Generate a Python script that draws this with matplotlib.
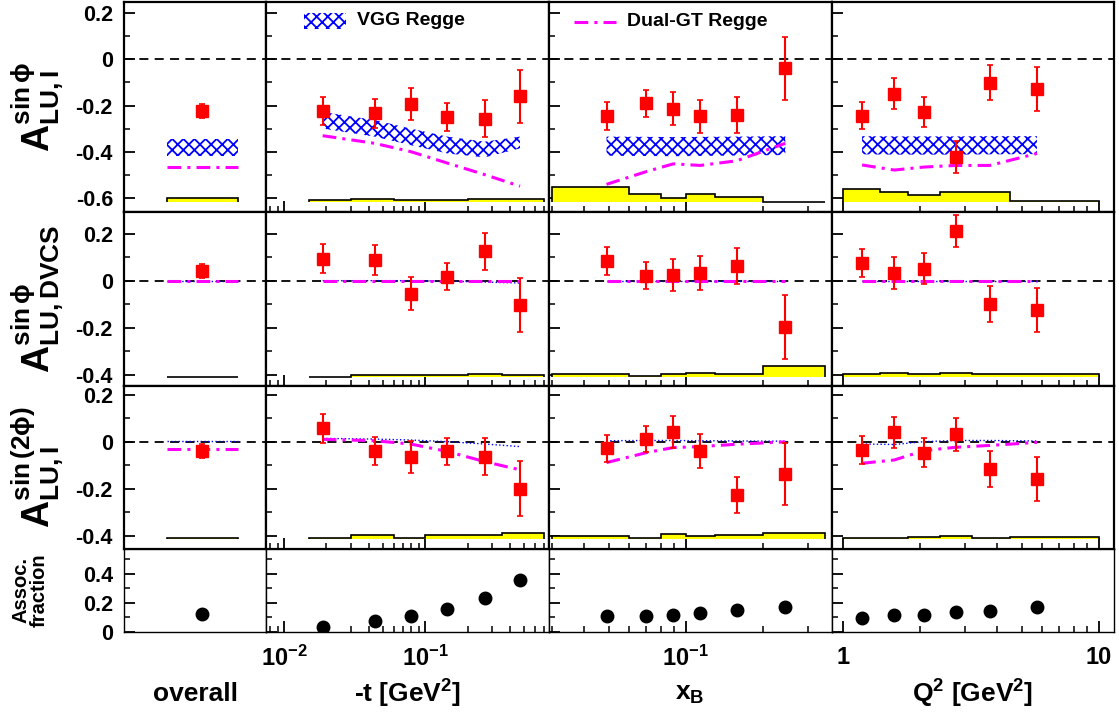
import numpy as np
import matplotlib
matplotlib.use('Agg')
import matplotlib.pyplot as plt
from matplotlib import rc
from matplotlib.ticker import LogLocator, MultipleLocator, NullFormatter, FuncFormatter, NullLocator

rc('font', family='Liberation Sans', weight='bold', size=13)
rc('mathtext', fontset='custom', rm='Liberation Sans:bold', it='Liberation Sans:bold:italic',
   bf='Liberation Sans:bold', sf='Liberation Sans:bold', default='rm')
rc('axes', unicode_minus=False, linewidth=1.6)
rc('hatch', linewidth=1.3, color='blue')

# ---- kinematics ----
overall_x = 0.55
t_val = [0.0188, 0.0438, 0.0789, 0.144, 0.2645, 0.47]
xb_val = [0.049, 0.070, 0.0895, 0.1138, 0.158, 0.245]
q2_val = [1.19, 1.59, 2.08, 2.76, 3.76, 5.74]

t_edges = [0.015, 0.03, 0.06, 0.1, 0.2, 0.35, 0.7]
xb_edges = [0.03, 0.06, 0.08, 0.1, 0.13, 0.2, 0.35]
q2_edges = [1.0, 1.4, 1.8, 2.4, 3.2, 4.5, 10.0]

# ---- A_LU,I sin(phi) ----
aI_all, aI_all_err = -0.224, 0.03
aI_t = [-0.224, -0.234, -0.195, -0.25, -0.257, -0.159]
aI_t_err = [0.062, 0.064, 0.07, 0.06, 0.08, 0.115]
aI_xb = [-0.246, -0.191, -0.214, -0.246, -0.241, -0.038]
aI_xb_err = [0.06, 0.059, 0.071, 0.072, 0.077, 0.137]
aI_q2 = [-0.244, -0.149, -0.228, -0.422, -0.101, -0.127]
aI_q2_err = [0.059, 0.068, 0.065, 0.069, 0.077, 0.095]
aI_sys_all = 0.02
aI_sys_t = [0.009, 0.016, 0.009, 0.012, 0.013, 0.013]
aI_sys_xb = [0.065, 0.034, 0.02, 0.037, 0.024, 0.003]
aI_sys_q2 = [0.057, 0.046, 0.033, 0.045, 0.045, 0.006]
vggI_all = (-0.419, -0.347)
vggI_t_lo = [-0.30, -0.335, -0.372, -0.408, -0.425, -0.386]
vggI_t_hi = [-0.228, -0.263, -0.30, -0.335, -0.357, -0.335]
vggI_xb_lo = [-0.418, -0.419, -0.42, -0.419, -0.417, -0.415]
vggI_xb_hi = [-0.335, -0.336, -0.337, -0.336, -0.335, -0.333]
vggI_q2_lo = [-0.412, -0.413, -0.413, -0.413, -0.412, -0.411]
vggI_q2_hi = [-0.333, -0.334, -0.334, -0.334, -0.333, -0.333]
dualI_all = -0.466
dualI_t = [-0.331, -0.364, -0.40, -0.45, -0.50, -0.55]
dualI_xb = [-0.542, -0.487, -0.453, -0.46, -0.44, -0.364]
dualI_q2 = [-0.458, -0.48, -0.467, -0.46, -0.46, -0.408]

# ---- A_LU,DVCS sin(phi) ----
aD_all, aD_all_err = 0.041, 0.028
aD_t = [0.094, 0.088, -0.055, 0.017, 0.125, -0.102]
aD_t_err = [0.062, 0.064, 0.069, 0.058, 0.079, 0.115]
aD_xb = [0.085, 0.021, 0.024, 0.031, 0.064, -0.197]
aD_xb_err = [0.06, 0.058, 0.069, 0.072, 0.077, 0.137]
aD_q2 = [0.075, 0.033, 0.051, 0.21, -0.098, -0.126]
aD_q2_err = [0.06, 0.067, 0.065, 0.068, 0.076, 0.094]
aD_sys_all = 0.002
aD_sys_t = [0.002, 0.01, 0.01, 0.008, 0.014, 0.01]
aD_sys_xb = [0.011, 0.003, 0.013, 0.017, 0.014, 0.047]
aD_sys_q2 = [0.011, 0.017, 0.014, 0.016, 0.013, 0.013]
vggD_all = 0.0
vggD_t = [0.0, 0.0, 0.0, -0.002, -0.006, -0.01]
vggD_xb = [0.0, 0.0, 0.0, 0.0, 0.0, 0.0]
vggD_q2 = [0.0, 0.0, 0.0, 0.0, 0.0, 0.0]
dualD_all = 0.0
dualD_t = [0.0, 0.0, 0.0, 0.0, 0.0, 0.0]
dualD_xb = [0.0, 0.0, 0.0, 0.0, 0.0, 0.0]
dualD_q2 = [0.0, 0.0, 0.0, 0.0, 0.0, 0.0]

# ---- A_LU,I sin(2phi) ----
a2_all, a2_all_err = -0.038, 0.03
a2_t = [0.057, -0.04, -0.064, -0.041, -0.064, -0.2]
a2_t_err = [0.061, 0.061, 0.068, 0.058, 0.078, 0.116]
a2_xb = [-0.028, 0.011, 0.042, -0.04, -0.226, -0.137]
a2_xb_err = [0.058, 0.057, 0.069, 0.073, 0.076, 0.132]
a2_q2 = [-0.035, 0.04, -0.047, 0.032, -0.116, -0.16]
a2_q2_err = [0.06, 0.065, 0.062, 0.07, 0.075, 0.093]
a2_sys_all = 0.002
a2_sys_t = [0.002, 0.017, 0.002, 0.017, 0.017, 0.027]
a2_sys_xb = [0.011, 0.002, 0.02, 0.014, 0.016, 0.023]
a2_sys_q2 = [0.002, 0.002, 0.01, 0.012, 0.002, 0.01]
vgg2_all = 0.003
vgg2_t = [0.014, 0.011, 0.007, 0.0, -0.01, -0.021]
vgg2_xb = [0.004, 0.005, 0.005, 0.004, 0.003, 0.002]
vgg2_q2 = [-0.01, -0.012, 0.0, 0.005, 0.005, 0.003]
dual2_all = -0.033
dual2_t = [0.01, 0.004, -0.01, -0.042, -0.085, -0.12]
dual2_xb = [-0.089, -0.047, -0.025, -0.021, -0.011, -0.001]
dual2_q2 = [-0.092, -0.078, -0.038, -0.024, -0.016, -0.003]

# ---- associated fraction ----
frac_all = 0.12
frac_t = [0.036, 0.073, 0.109, 0.159, 0.234, 0.357]
frac_xb = [0.107, 0.107, 0.118, 0.132, 0.152, 0.17]
frac_q2 = [0.095, 0.114, 0.118, 0.136, 0.143, 0.173]

row_ylims = [(-0.662, 0.249), (-0.448, 0.292), (-0.457, 0.237), (0.0, 0.568)]
sys_base = [-0.62, -0.41, -0.414]
col_xlims = [(0, 1), (0.00746, 0.754), (0.0292, 0.373), (0.908, 11.48)]
band_x = [0.3, 0.8]

dual_style = dict(color='#ff00ff', lw=2.2, ls=(0, (4.5, 2, 1, 2)))
vgg_line = dict(color='blue', lw=1.0, ls=':')

fig = plt.figure(figsize=(11.19, 7.17), dpi=100)
gs = fig.add_gridspec(4, 4, width_ratios=[142, 283, 283, 282], height_ratios=[210, 174, 163, 83],
                      left=124/1119, right=1114/1119, top=1-2/717, bottom=1-632/717,
                      wspace=0, hspace=0)
axes = [[fig.add_subplot(gs[r, c]) for c in range(4)] for r in range(4)]

def logfmt(v, pos):
    e = int(round(np.log10(v)))
    return r'$10^{%d}$' % e

def q2fmt(v, pos):
    return '%g' % v

for r in range(4):
    for c in range(4):
        ax = axes[r][c]
        ax.set_ylim(*row_ylims[r])
        ax.set_xlim(*col_xlims[c])
        if c > 0:
            ax.set_xscale('log')
            ax.xaxis.set_major_locator(LogLocator(base=10, subs=(1.0,)))
            ax.xaxis.set_minor_locator(LogLocator(base=10, subs=np.arange(2, 10)))
            ax.xaxis.set_minor_formatter(NullFormatter())
            if r == 3:
                ax.xaxis.set_major_formatter(FuncFormatter(q2fmt if c == 3 else logfmt))
            else:
                ax.xaxis.set_major_formatter(NullFormatter())
        else:
            ax.xaxis.set_major_locator(NullLocator())
            ax.xaxis.set_minor_locator(NullLocator())
        ax.yaxis.set_major_locator(MultipleLocator(0.2))
        ax.yaxis.set_minor_locator(MultipleLocator(0.1))
        if c > 0:
            ax.yaxis.set_major_formatter(NullFormatter())
        else:
            ax.yaxis.set_major_formatter(FuncFormatter(lambda v, p: '%g' % round(v, 2)))
        ax.tick_params(which='major', direction='in', length=8, width=1.3, pad=8, labelsize=15.5)
        ax.tick_params(axis='x', which='major', labelsize=17, pad=10)
        ax.tick_params(which='minor', direction='in', length=4.5, width=1.1)
        if r == 3:
            for s in ax.spines.values():
                s.set_linewidth(1.0)
        if r < 3:
            ax.axhline(0, color='black', lw=1.3, ls=(0, (5, 3.5)), zorder=1)

kin = [None, t_val, xb_val, q2_val]
edges = [band_x, t_edges, xb_edges, q2_edges]

asym = [
    [(aI_all, aI_all_err), (aI_t, aI_t_err), (aI_xb, aI_xb_err), (aI_q2, aI_q2_err)],
    [(aD_all, aD_all_err), (aD_t, aD_t_err), (aD_xb, aD_xb_err), (aD_q2, aD_q2_err)],
    [(a2_all, a2_all_err), (a2_t, a2_t_err), (a2_xb, a2_xb_err), (a2_q2, a2_q2_err)],
]
sysv = [
    [[aI_sys_all], aI_sys_t, aI_sys_xb, aI_sys_q2],
    [[aD_sys_all], aD_sys_t, aD_sys_xb, aD_sys_q2],
    [[a2_sys_all], a2_sys_t, a2_sys_xb, a2_sys_q2],
]
duals = [
    [dualI_all, dualI_t, dualI_xb, dualI_q2],
    [dualD_all, dualD_t, dualD_xb, dualD_q2],
    [dual2_all, dual2_t, dual2_xb, dual2_q2],
]
vgg_lines = [None,
             [vggD_all, vggD_t, vggD_xb, vggD_q2],
             [vgg2_all, vgg2_t, vgg2_xb, vgg2_q2]]
vgg_band = [(vggI_all[0], vggI_all[1]), (vggI_t_lo, vggI_t_hi),
            (vggI_xb_lo, vggI_xb_hi), (vggI_q2_lo, vggI_q2_hi)]
fracs = [frac_all, frac_t, frac_xb, frac_q2]

for r in range(3):
    for c in range(4):
        ax = axes[r][c]
        xs = band_x if c == 0 else kin[c]
        # systematic band
        h = np.array(sysv[r][c])
        ax.stairs(sys_base[r] + h, edges[c], baseline=sys_base[r], fill=True,
                  facecolor='yellow', edgecolor='black', linewidth=1.2, zorder=2)
        # models
        if r == 0:
            lo, hi = vgg_band[c]
            if c == 0:
                lo, hi = [lo, lo], [hi, hi]
            ax.fill_between(xs, lo, hi, facecolor='white', edgecolor='blue',
                            hatch='xxx', linewidth=0, zorder=3)
        else:
            v = vgg_lines[r][c]
            ax.plot(xs, [v, v] if c == 0 else v, zorder=3, **vgg_line)
        d = duals[r][c]
        ax.plot(xs, [d, d] if c == 0 else d, zorder=4, **dual_style)
        # data
        y, e = asym[r][c]
        x = overall_x if c == 0 else kin[c]
        ax.errorbar(x, y, yerr=e, fmt='s', color='red', ms=8, elinewidth=1.5,
                    capsize=2, capthick=1.2, zorder=5)

for c in range(4):
    ax = axes[3][c]
    x = overall_x if c == 0 else kin[c]
    ax.plot(x, fracs[c], 'o', color='black', ms=9, zorder=5)

# legend entries
ax = axes[0][1]
ax.fill_between([0.133, 0.283], [0.87, 0.87], [0.949, 0.949], transform=ax.transAxes,
                facecolor='white', edgecolor='blue', hatch='xxx', linewidth=0)
ax.text(0.32, 0.91, 'VGG Regge', transform=ax.transAxes, ha='left', va='center', fontsize=14)
ax = axes[0][2]
ax.plot([0.087, 0.237], [0.906, 0.906], transform=ax.transAxes, **dual_style)
ax.text(0.276, 0.906, 'Dual-GT Regge', transform=ax.transAxes, ha='left', va='center', fontsize=14)

# y labels
fig.text(38/1119, 1-107/717, r'$A^{\mathrm{sin}\,\phi}_{\mathrm{LU,I}}$', rotation=90,
         ha='center', va='center', fontsize=27)
fig.text(38/1119, 1-299/717, r'$A^{\mathrm{sin}\,\phi}_{\mathrm{LU,DVCS}}$', rotation=90,
         ha='center', va='center', fontsize=27)
fig.text(38/1119, 1-467/717, r'$A^{\mathrm{sin}\,(2\phi)}_{\mathrm{LU,I}}$', rotation=90,
         ha='center', va='center', fontsize=27)
fig.text(30/1119, 1-590/717, 'Assoc.\nfraction', rotation=90, ha='center', va='center',
         fontsize=14.5, linespacing=0.95)

# x labels
fig.text(195/1119, 1-694/717, 'overall', ha='center', va='center', fontsize=19)
fig.text(407/1119, 1-694/717, r'-t [GeV$^{2}$]', ha='center', va='center', fontsize=19)
fig.text(690/1119, 1-694/717, r'x$_{\mathrm{B}}$', ha='center', va='center', fontsize=19)
fig.text(973/1119, 1-694/717, r'Q$^{2}$ [GeV$^{2}$]', ha='center', va='center', fontsize=19)

fig.savefig('out.png', dpi=100)
